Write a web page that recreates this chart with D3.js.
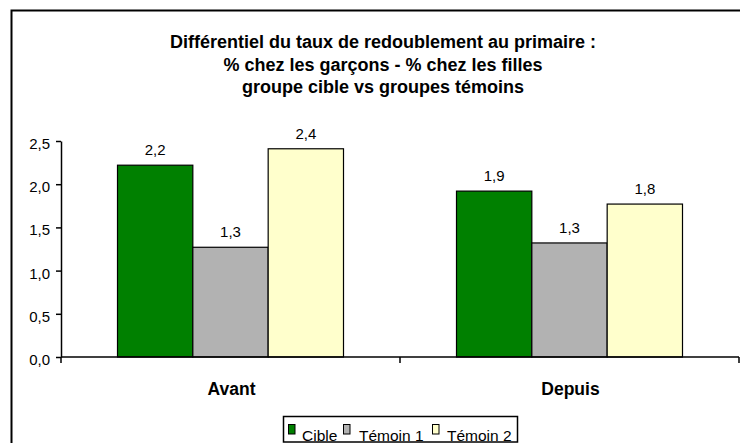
<!DOCTYPE html>
<html><head><meta charset="utf-8">
<script src="https://cdn.jsdelivr.net/npm/d3@7"></script>
<style>body{margin:0;background:#fff}svg{display:block;font-family:"Liberation Sans",Arial,sans-serif}</style>
</head><body>
<svg id="c" width="740" height="443"></svg>
<script>
const categories = ["Avant", "Depuis"];
const series = ["Cible", "Témoin 1", "Témoin 2"];
const cibleValues = [2.22, 1.92];
const temoin1Values = [1.27, 1.32];
const temoin2Values = [2.41, 1.77];
const valueLabels = [["2,2", "1,9"], ["1,3", "1,3"], ["2,4", "1,8"]];
const yTicks = [0, 0.5, 1.0, 1.5, 2.0, 2.5];
const titleLines = ["Différentiel du taux de redoublement au primaire :", "% chez les garçons - % chez les filles", "groupe cible vs groupes témoins"];
const colors = ["#008000", "#B2B2B2", "#FFFFCC"];
const allValues = [cibleValues, temoin1Values, temoin2Values];

const svg = d3.select("#c");
// outer frame
svg.append("rect").attr("x", 11.5).attr("y", 10.5).attr("width", 745).attr("height", 450)
  .attr("fill", "none").attr("stroke", "#000").attr("stroke-width", 2);

// title
svg.append("g").selectAll("text").data(titleLines).join("text")
  .attr("x", 383).attr("y", (d, i) => 48 + i * 22.5)
  .attr("text-anchor", "middle").attr("font-weight", "bold").attr("font-size", 18)
  .text(d => d);

const x0 = d3.scaleBand().domain(categories).range([61, 739]);
const x1 = d3.scaleBand().domain(series).range([0, x0.bandwidth()]).paddingInner(0).paddingOuter(0.75);
const y = d3.scaleLinear().domain([0, 2.5]).range([357, 141]);

// bars
series.forEach((s, si) => {
  const g = svg.append("g");
  g.selectAll("rect").data(categories).join("rect")
    .attr("x", (c) => x0(c) + x1(s))
    .attr("y", (c, ci) => y(allValues[si][ci]))
    .attr("width", x1.bandwidth())
    .attr("height", (c, ci) => y(0) - y(allValues[si][ci]))
    .attr("fill", colors[si]).attr("stroke", "#000").attr("stroke-width", 1.2);
  g.selectAll("text").data(categories).join("text")
    .attr("x", (c) => x0(c) + x1(s) + x1.bandwidth() / 2)
    .attr("y", (c, ci) => y(allValues[si][ci]) - 10)
    .attr("text-anchor", "middle").attr("font-size", 15)
    .text((c, ci) => valueLabels[si][ci]);
});

// y axis
const yAxis = svg.append("g").attr("transform", "translate(61,0)")
  .call(d3.axisLeft(y).tickValues(yTicks).tickSize(5).tickSizeOuter(0)
    .tickFormat(d => d3.format(".1f")(d).replace(".", ",")));
yAxis.selectAll("text").attr("font-size", 15).attr("font-family", "Liberation Sans, Arial, sans-serif")
  .attr("fill", "#000").attr("dx", "-3").attr("dy", "0.5em");
yAxis.selectAll("line,path").attr("stroke", "#000").attr("stroke-width", 1.5);

// x axis
const xAxisG = svg.append("g").attr("transform", "translate(0,357)");
xAxisG.append("line").attr("x1", 61).attr("x2", 739).attr("stroke", "#000").attr("stroke-width", 1.5);
const bounds = [x0.range()[0], ...categories.map(c => x0(c) + x0.bandwidth())];
xAxisG.selectAll("line.t").data(bounds).join("line").attr("class", "t")
  .attr("x1", d => d).attr("x2", d => d).attr("y1", 0).attr("y2", 6)
  .attr("stroke", "#000").attr("stroke-width", 1.5);
xAxisG.selectAll("text").data(categories).join("text")
  .attr("x", c => x0(c) + x0.bandwidth() / 2 + 1).attr("y", 38)
  .attr("text-anchor", "middle").attr("font-weight", "bold").attr("font-size", 17.5)
  .text(c => c);

// legend
const lg = svg.append("g");
lg.append("rect").attr("x", 283.5).attr("y", 416.5).attr("width", 234).attr("height", 25.5)
  .attr("fill", "#fff").attr("stroke", "#000").attr("stroke-width", 1.5);
const legendX = [288, 343, 432];
const legendTextX = [302, 359, 447];
series.forEach((s, i) => {
  lg.append("rect").attr("x", legendX[i] + 0.5).attr("y", 424.5).attr("width", 6.5).attr("height", 9.5)
    .attr("fill", colors[i]).attr("stroke", "#000").attr("stroke-width", 1);
  lg.append("text").attr("x", legendTextX[i]).attr("y", 441).attr("font-size", 15.5).text(s);
});
</script>
</body></html>
